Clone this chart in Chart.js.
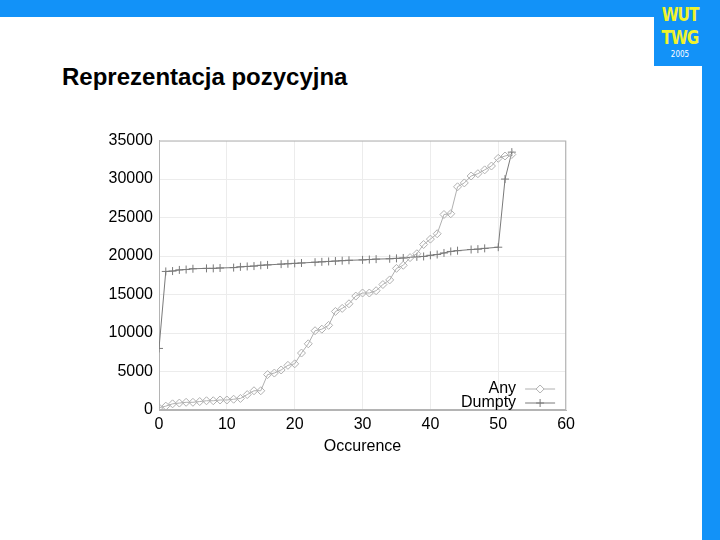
<!DOCTYPE html>
<html lang="pl">
<head>
<meta charset="UTF-8">
<title>Reprezentacja pozycyjna</title>
<script src="https://cdn.jsdelivr.net/npm/chart.js"></script>
<style>
    body {
        margin: 0;
        width: 720px;
        height: 540px;
        background: #fff;
        position: relative;
        overflow: hidden;
        font-family: "Liberation Sans", Arial, sans-serif;
    }
    .bar-top { position: absolute; left: 0; top: 0; width: 720px; height: 17px; background: #1292f8; }
    .logo-box { position: absolute; left: 654px; top: 0; width: 66px; height: 66px; background: #1292f8; }
    .bar-right { position: absolute; left: 702px; top: 0; width: 18px; height: 540px; background: #1292f8; }
    .logo {
        position: absolute; left: 656px; top: 6px; width: 48px; text-align: center;
        color: #f2f22a; font-family: "DejaVu Sans Condensed", "DejaVu Sans", sans-serif;
        font-weight: bold; font-size: 17px; line-height: 21px; letter-spacing: -1px;
        transform: scaleY(1.1);
    }
    .logo small { display: block; color: #fff; font-weight: normal; font-size: 8px; line-height: 9px; letter-spacing: 0; }
    h1 {
        position: absolute; left: 62px; top: 63px; margin: 0;
        font-size: 24px; font-weight: bold; color: #000;
    }
    #wrap { position: absolute; left: 100px; top: 125px; width: 480px; height: 331px; }
</style>
</head>
<body>
<div class="bar-top"></div>
<div class="logo-box"></div>
<div class="bar-right"></div>
<div class="logo">WUT<br>TWG<small>2005</small></div>
<h1>Reprezentacja pozycyjna</h1>
<div id="wrap"><canvas id="chart"></canvas></div>

<script>
    const xTicks = [0, 10, 20, 30, 40, 50, 60];
    const yTicks = [0, 5000, 10000, 15000, 20000, 25000, 30000, 35000];

    const anyX = [0, 1, 2, 3, 4, 5, 6, 7, 8, 9, 10, 11, 12, 13, 14, 15, 16, 17, 18, 19, 20,
        21, 22, 23, 24, 25, 26, 27, 28, 29, 30, 31, 32, 33, 34, 35, 36, 37, 38, 39, 40,
        41, 42, 43, 44, 45, 46, 47, 48, 49, 50, 51, 52];
    const anyY = [300, 500, 800, 900, 1000, 1000, 1100, 1200, 1200, 1300, 1300, 1400, 1500, 2000, 2500, 2500,
        4600, 4800, 5200, 5800, 6000, 7400, 8600, 10300, 10500, 11000, 12800, 13200, 13800, 14800, 15200,
        15200, 15500, 16300, 16900, 18400, 18800, 19800, 20300, 21500, 22200, 22900, 25400, 25500, 29000,
        29500, 30400, 30700, 31200, 31700, 32700, 33000, 33200];

    const dumptyX = [0, 1, 2, 3, 4, 5, 7, 8, 9, 11, 12, 13, 14, 15, 16, 18, 19, 20, 21, 23, 24, 25,
        26, 27, 28, 30, 31, 32, 34, 35, 36, 38, 39, 40, 41, 42, 43, 44, 46, 47, 48, 50, 51, 52];
    const dumptyY = [8000, 18000, 18050, 18200, 18250, 18350, 18400, 18400, 18450, 18500, 18600, 18650,
        18700, 18800, 18850, 18950, 19000, 19050, 19100, 19200, 19250, 19300, 19350, 19400, 19450, 19500,
        19550, 19600, 19650, 19700, 19750, 19900, 19950, 20100, 20200, 20400, 20600, 20700, 20850, 20900,
        21000, 21150, 30000, 33500];

    const toPoints = (xs, ys) => xs.map((x, i) => ({ x: x, y: ys[i] }));

    // legend inside the plot, bottom right, text right-aligned with sample to the right
    const insideLegend = {
        id: 'insideLegend',
        afterDraw(chart) {
            const ctx = chart.ctx;
            const a = chart.chartArea;
            ctx.save();
            ctx.font = '16px "Liberation Sans", Arial, sans-serif';
            ctx.textAlign = 'right';
            ctx.textBaseline = 'middle';
            chart.data.datasets.forEach((ds, i) => {
                const y = a.bottom - 21 + i * 14;
                const tx = a.right - 50;
                ctx.fillStyle = '#000';
                ctx.fillText(ds.label, tx, y);
                ctx.strokeStyle = ds.borderColor;
                ctx.lineWidth = 1;
                ctx.beginPath();
                ctx.moveTo(tx + 9, y);
                ctx.lineTo(tx + 39, y);
                ctx.stroke();
                ctx.fillStyle = '#fff';
                ctx.strokeStyle = ds.pointBorderColor;
                Chart.helpers.drawPoint(ctx, {
                    pointStyle: ds.pointStyle, radius: ds.pointRadius, borderWidth: 1
                }, tx + 24, y);
            });
            ctx.restore();
        }
    };

    new Chart(document.getElementById('chart'), {
        type: 'scatter',
        data: {
            datasets: [{
                label: 'Any',
                data: toPoints(anyX, anyY),
                showLine: true,
                borderColor: '#b0b0b0',
                backgroundColor: 'rgba(255,255,255,0)',
                borderWidth: 1,
                pointStyle: 'rectRot',
                pointRadius: 4,
                pointBorderWidth: 1,
                pointBorderColor: '#b0b0b0',
                pointBackgroundColor: 'rgba(255,255,255,0)'
            }, {
                label: 'Dumpty',
                data: toPoints(dumptyX, dumptyY),
                showLine: true,
                borderColor: '#7a7a7a',
                backgroundColor: '#7a7a7a',
                borderWidth: 1,
                pointStyle: 'cross',
                pointRadius: 4,
                pointBorderWidth: 1,
                pointBorderColor: '#7a7a7a'
            }]
        },
        options: {
            responsive: true,
            maintainAspectRatio: false,
            animation: false,
            layout: { padding: { top: 12, right: 13, left: 0, bottom: 0 } },
            plugins: { legend: { display: false }, tooltip: { enabled: false } },
            scales: {
                x: {
                    type: 'linear',
                    min: 0,
                    max: 60,
                    afterBuildTicks: s => { s.ticks = xTicks.map(v => ({ value: v })); },
                    afterFit: s => { s.height = 46; },
                    grid: { color: '#ececec', drawTicks: false },
                    border: { color: '#b4b4b4', width: 1 },
                    ticks: {
                        color: '#000', padding: 5, callback: v => String(v),
                        font: { size: 16, family: '"Liberation Sans", Arial' }
                    },
                    title: {
                        display: true, text: 'Occurence', color: '#000', padding: 0,
                        font: { size: 16, family: '"Liberation Sans", Arial' }
                    }
                },
                y: {
                    min: 0,
                    max: 35000,
                    afterBuildTicks: s => { s.ticks = yTicks.map(v => ({ value: v })); },
                    afterFit: s => { s.width = 59; },
                    grid: { color: '#ececec', drawTicks: false },
                    border: { color: '#b4b4b4', width: 1 },
                    ticks: {
                        color: '#000', padding: 6, callback: v => String(v),
                        font: { size: 16, family: '"Liberation Sans", Arial' }
                    }
                }
            }
        },
        plugins: [insideLegend, {
            id: 'frame',
            beforeDatasetsDraw(chart) {
                const a = chart.chartArea;
                const ctx = chart.ctx;
                ctx.save();
                ctx.strokeStyle = '#b4b4b4';
                ctx.lineWidth = 1;
                ctx.strokeRect(a.left + 0.5, a.top + 0.5, a.right - a.left - 1, a.bottom - a.top - 1);
                ctx.restore();
            }
        }]
    });
</script>
</body>
</html>
